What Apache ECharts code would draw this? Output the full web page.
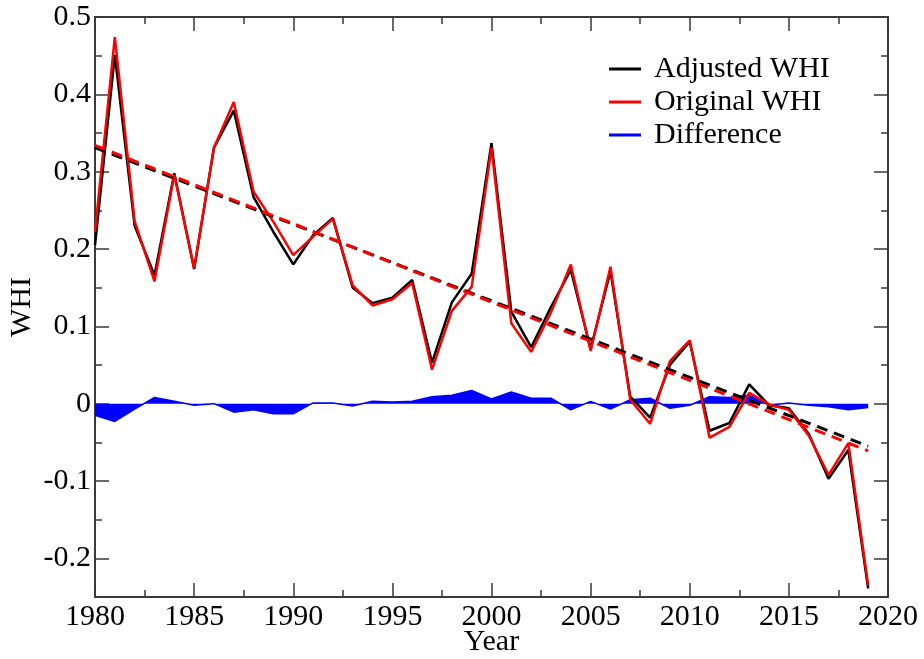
<!DOCTYPE html>
<html>
<head>
<meta charset="utf-8">
<title>WHI</title>
<script src="https://cdn.jsdelivr.net/npm/echarts@6/dist/echarts.min.js"></script>
<style>
  html, body { margin: 0; padding: 0; background: #fff; }
  #chart { width: 924px; height: 659px; }
</style>
</head>
<body>
<div id="chart"></div>
<script>
// Annual WHI series, 1980-2019
const years = [1980, 1981, 1982, 1983, 1984, 1985, 1986, 1987, 1988, 1989,
               1990, 1991, 1992, 1993, 1994, 1995, 1996, 1997, 1998, 1999,
               2000, 2001, 2002, 2003, 2004, 2005, 2006, 2007, 2008, 2009,
               2010, 2011, 2012, 2013, 2014, 2015, 2016, 2017, 2018, 2019];

const adjustedWHI = [0.205, 0.451, 0.230, 0.166, 0.298, 0.174, 0.331, 0.379, 0.267, 0.222,
                     0.180, 0.218, 0.240, 0.150, 0.130, 0.137, 0.160, 0.053, 0.131, 0.168,
                     0.337, 0.119, 0.073, 0.125, 0.173, 0.071, 0.171, 0.009, -0.018, 0.050,
                     0.080, -0.035, -0.025, 0.025, -0.002, -0.006, -0.039, -0.097, -0.060, -0.239];

const originalWHI = [0.222, 0.474, 0.236, 0.158, 0.296, 0.175, 0.331, 0.390, 0.274, 0.235,
                     0.192, 0.216, 0.239, 0.153, 0.127, 0.135, 0.156, 0.044, 0.120, 0.151,
                     0.331, 0.104, 0.067, 0.118, 0.180, 0.068, 0.177, 0.005, -0.026, 0.055,
                     0.082, -0.044, -0.030, 0.014, -0.001, -0.008, -0.041, -0.092, -0.051, -0.235];

const differenceWHI = [-0.015, -0.023, -0.007, 0.008, 0.003, -0.002, 0.000, -0.011, -0.008, -0.013,
                       -0.013, 0.001, 0.001, -0.003, 0.003, 0.002, 0.003, 0.009, 0.011, 0.017,
                       0.006, 0.015, 0.007, 0.007, -0.008, 0.003, -0.007, 0.005, 0.007, -0.006,
                       -0.002, 0.009, 0.008, 0.011, -0.002, 0.001, -0.002, -0.004, -0.008, -0.005];

// Linear trend end points
const trendYears = [1980, 2019];
const trendAdjusted = [0.331, -0.055];
const trendOriginal = [0.334, -0.061];

// Axis ticks
const yMajorTicks = [-0.2, -0.1, 0, 0.1, 0.2, 0.3, 0.4, 0.5];
const yMinorTicks = [-0.25, -0.15, -0.05, 0.05, 0.15, 0.25, 0.35, 0.45];

const FONT = "'Liberation Serif', 'DejaVu Serif', serif";
const FONT_SIZE = 30;
const AXIS_COLOR = '#3a3a3a';

const pairs = (xs, ys) => xs.map((x, i) => [x, ys[i]]);

function fmtY(v) {
  const r = Math.round(v * 10) / 10;
  if (r === 0) return '0';
  return String(r);
}

function xAxisDef(position, showLabels, name) {
  return {
    type: 'value',
    position: position,
    min: 1980, max: 2020, interval: 5,
    name: name || '',
    nameLocation: 'middle',
    nameGap: 30,
    nameMoveOverlap: false,
    nameTextStyle: { fontFamily: FONT, fontSize: FONT_SIZE, color: '#000' },
    axisLine: { show: true, onZero: false, lineStyle: { color: AXIS_COLOR, width: 2 } },
    axisTick: { show: true, inside: true, length: 14, lineStyle: { color: AXIS_COLOR, width: 1.5 } },
    minorTick: { show: true, splitNumber: 2, length: 7, lineStyle: { color: AXIS_COLOR, width: 1.5 } },
    axisLabel: { show: showLabels, margin: 5, formatter: v => String(v),
                 fontFamily: FONT, fontSize: FONT_SIZE, color: '#000' },
    splitLine: { show: false },
    minorSplitLine: { show: false }
  };
}

function yAxisDef(position, ticks, tickLen, showLabels, name) {
  return {
    type: 'value',
    position: position,
    min: -0.25, max: 0.5,
    name: name || '',
    nameLocation: 'middle',
    nameGap: 58,
    nameMoveOverlap: false,
    nameTextStyle: { fontFamily: FONT, fontSize: FONT_SIZE, color: '#000' },
    axisLine: { show: true, onZero: false, lineStyle: { color: AXIS_COLOR, width: 2 } },
    axisTick: { show: true, inside: true, length: tickLen, customValues: ticks,
                lineStyle: { color: AXIS_COLOR, width: 1.5 } },
    axisLabel: { show: showLabels, customValues: yMajorTicks, margin: 4, formatter: fmtY,
                 fontFamily: FONT, fontSize: FONT_SIZE, color: '#000' },
    splitLine: { show: false }
  };
}

const chart = echarts.init(document.getElementById('chart'), null, { renderer: 'canvas' });

chart.setOption({
  animation: false,
  backgroundColor: '#fff',
  grid: { left: 95, right: 36, top: 17, bottom: 62, containLabel: false, outerBoundsMode: 'none' },
  xAxis: [
    xAxisDef('bottom', true, 'Year'),
    xAxisDef('top', false)
  ],
  yAxis: [
    yAxisDef('left', yMajorTicks, 14, true, 'WHI'),
    yAxisDef('left', yMinorTicks, 7, false),
    yAxisDef('right', yMajorTicks, 14, false),
    yAxisDef('right', yMinorTicks, 7, false)
  ],
  legend: {
    orient: 'vertical',
    left: 604,
    top: 49,
    itemWidth: 32,
    itemHeight: 3,
    itemGap: 3,
    icon: 'rect',
    textStyle: { fontFamily: FONT, fontSize: FONT_SIZE, color: '#000', lineHeight: 30, padding: [0, 0, 0, 8] },
    data: ['Adjusted WHI', 'Original WHI', 'Difference']
  },
  series: [
    {
      name: 'Difference',
      type: 'line',
      data: pairs(years, differenceWHI),
      symbol: 'none',
      lineStyle: { color: '#0000ff', width: 1.5 },
      itemStyle: { color: '#0000ff' },
      areaStyle: { color: '#0000ff', opacity: 1, origin: 0 },
      z: 1
    },
    {
      name: 'Adjusted WHI',
      type: 'line',
      data: pairs(years, adjustedWHI),
      symbol: 'none',
      lineStyle: { color: '#000000', width: 2.5 },
      itemStyle: { color: '#000000' },
      z: 2
    },
    {
      name: 'Original WHI',
      type: 'line',
      data: pairs(years, originalWHI),
      symbol: 'none',
      lineStyle: { color: '#ff0000', width: 2.5 },
      itemStyle: { color: '#ff0000' },
      z: 3
    },
    {
      name: 'Adjusted trend',
      type: 'line',
      data: pairs(trendYears, trendAdjusted),
      symbol: 'none',
      lineStyle: { color: '#000000', width: 3, type: [11, 7] },
      z: 4
    },
    {
      name: 'Original trend',
      type: 'line',
      data: pairs(trendYears, trendOriginal),
      symbol: 'none',
      lineStyle: { color: '#ff0000', width: 3, type: [11, 7] },
      z: 4
    }
  ]
});
</script>
</body>
</html>
